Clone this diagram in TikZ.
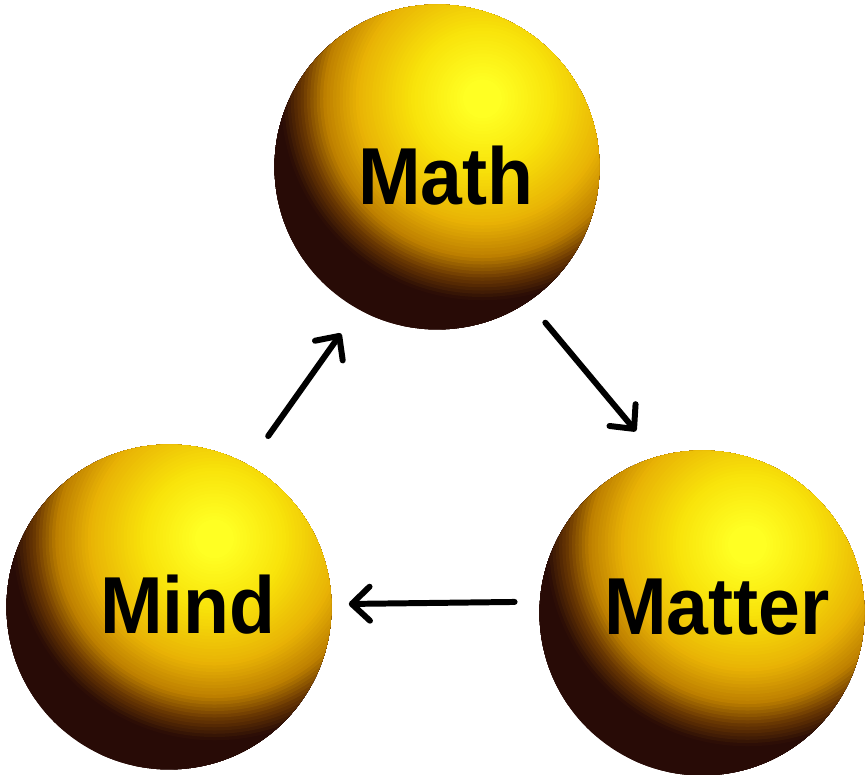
\documentclass[tikz,border=0pt]{standalone}
\usepackage{fontspec}
\setmainfont{Liberation Sans}
\usepackage{graphicx}
\usetikzlibrary{arrows.meta, calc}
\definecolor{GoldLight}{RGB}{255, 255, 35}
\definecolor{GoldBright}{RGB}{248, 226, 10}
\definecolor{GoldMid}{RGB}{232, 178, 5}
\definecolor{GoldDeep}{RGB}{190, 128, 0}
\definecolor{Umber}{RGB}{105, 55, 2}
\definecolor{DarkBrown}{RGB}{40, 11, 6}
\newcommand{\balltext}[1]{\scalebox{0.93}[1]{#1}}
% colour of a ring at distance #1 (in ball radii) from the highlight
\newcommand{\ballmix}[5]{%
  \pgfmathtruncatemacro\ringpct{100*(#3-#1)/(#3-#2)}%
  \colorlet{ringcol}{#4!\ringpct!#5}}
\newcommand{\ringcolor}[1]{%
  \ifdim#1pt<0.12pt \colorlet{ringcol}{GoldLight}\else
  \ifdim#1pt<0.45pt \ballmix{#1}{0.12}{0.45}{GoldLight}{GoldBright}\else
  \ifdim#1pt<0.78pt \ballmix{#1}{0.45}{0.78}{GoldBright}{GoldMid}\else
  \ifdim#1pt<0.98pt \ballmix{#1}{0.78}{0.98}{GoldMid}{GoldDeep}\else
  \ifdim#1pt<1.12pt \ballmix{#1}{0.98}{1.12}{GoldDeep}{Umber}\else
  \ifdim#1pt<1.25pt \ballmix{#1}{1.12}{1.25}{Umber}{DarkBrown}\else
  \colorlet{ringcol}{DarkBrown}\fi\fi\fi\fi\fi\fi}

\begin{document}
\begin{tikzpicture}[x=0.02cm, y=-0.02cm,
  ball/.style={
    circle, minimum size=6.5cm, inner sep=0pt,
    path picture={
      \foreach \i in {76,...,1}{
        \pgfmathsetmacro\dd{\i*0.02}
        \ringcolor{\dd}
        \fill[ringcol] ($(path picture bounding box.center)+(0.91cm,1.365cm)$)
          circle[radius=\dd*3.25cm];
      }
    }
  },
  word/.style={font=\fontsize{46}{48}\selectfont\bfseries, inner sep=0pt},
  arr/.style={-{Straight Barb[length=0.36cm, width=0.68cm, round]},
    line width=3.4pt, line cap=round, color=black}
]
  \useasboundingbox (0,0) rectangle (867,775);

  \node[ball] (math)   at (437,167) {};
  \node[ball] (mind)   at (169,607) {};
  \node[ball] (matter) at (702,613) {};

  \node[word] (mathtxt)   at ($(math)+(9,9)$)    {\balltext{Math}};
  \node[word] (mindtxt)   at ($(mind)+(19,-2)$)  {\balltext{Mind}};
  \node[word] (mattertxt) at ($(matter)+(15,-6)$) {\balltext{Matter}};

  \draw[arr, shorten <=0.7cm, shorten >=0.59cm]  (mind.61)     -- (math.241);
  \draw[arr, shorten <=0.54cm, shorten >=0.66cm] (math.304)    -- (matter.106.5);
  \draw[arr, shorten <=0.5cm, shorten >=0.34cm]  (matter.176.5) -- (mind.1.4);
\end{tikzpicture}
\end{document}
